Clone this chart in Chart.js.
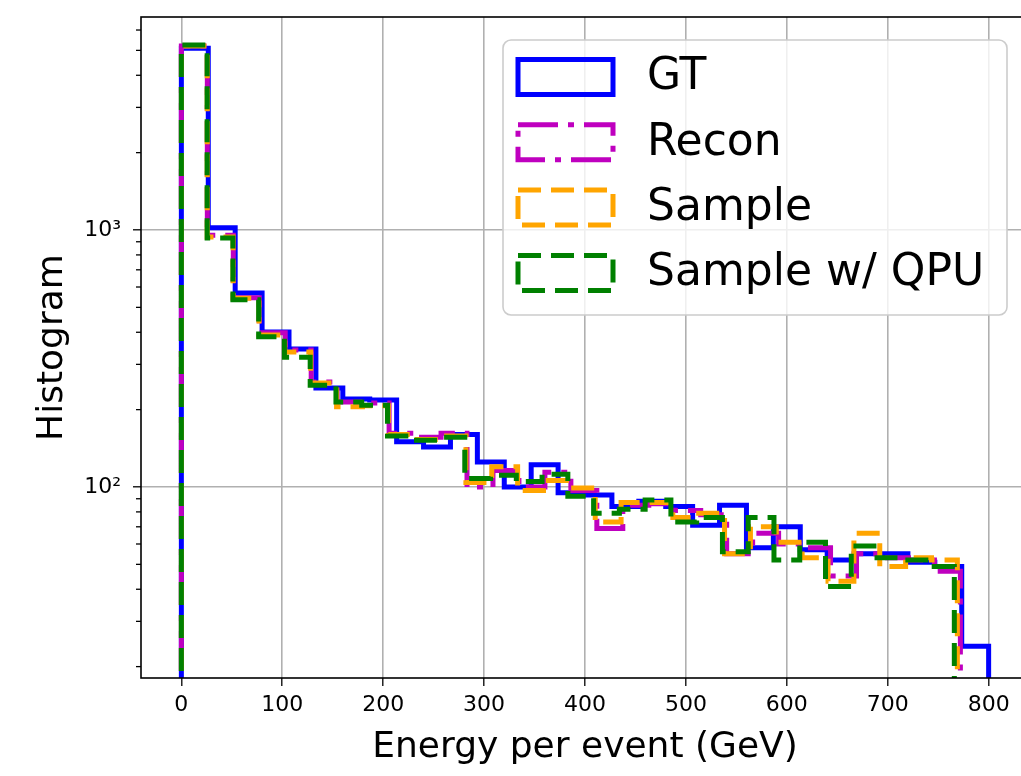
<!DOCTYPE html>
<html>
<head>
<meta charset="utf-8">
<script src="https://cdn.jsdelivr.net/npm/chart.js@4.4.1/dist/chart.umd.min.js"></script>
<style>
  html, body { margin: 0; padding: 0; background: #fff; overflow: hidden; }
  canvas { display: block; }
</style>
</head>
<body>
<canvas id="histChart" width="1045" height="776"></canvas>
<script>
// histogram counts per bin (30 bins each)
const gtCounts     = [5100, 1020, 569, 401, 344, 243, 220, 218, 150, 143, 160, 125, 100, 122, 95, 93, 84, 88, 84, 71, 85, 58, 70, 57, 52, 55, 55, 51, 49, 24];
const reconCounts  = [5200, 955, 545, 398, 341, 256, 214, 212, 162, 156, 162, 100, 116, 100, 114, 97, 69, 85, 86, 81, 78, 55, 66, 60, 58, 45, 55, 53, 52, 47];
const sampleCounts = [5200, 940, 543, 390, 335, 254, 205, 207, 160, 153, 158, 104, 120, 97, 106, 99, 73, 87, 87, 76, 79, 55, 70, 61, 53, 43, 66, 49, 53, 52];
const qpuCounts    = [5250, 930, 535, 384, 320, 249, 214, 208, 158, 152, 156, 108, 111, 105, 112, 92, 79, 82, 89, 73, 76, 56, 76, 52, 61, 41, 59, 53, 52, 49];

// bin ranges (GeV) of each histogram
const gtRange     = [0, 800];
const reconRange  = [0, 772];
const sampleRange = [0, 769];
const qpuRange    = [0, 766];

const xTickValues = [0, 100, 200, 300, 400, 500, 600, 700, 800];
const yTickValues = [20, 30, 40, 50, 60, 70, 80, 90, 100, 200, 300, 400, 500, 600, 700, 800, 900, 1000, 2000, 3000, 4000, 5000, 6000];
const yTickLabels = { 100: '10²', 1000: '10³' };

const FONT = 'DejaVu Sans';

// outline of a step histogram, dropping to below the axis at both ends
function stepPoints(counts, range) {
  const w = (range[1] - range[0]) / counts.length;
  const pts = [{ x: range[0], y: 1 }];
  counts.forEach((c, i) => pts.push({ x: range[0] + i * w, y: c }));
  pts.push({ x: range[1], y: counts[counts.length - 1] });
  pts.push({ x: range[1], y: 1 });
  return pts;
}

function stepSet(label, counts, range, color, dash, order) {
  return {
    label,
    data: stepPoints(counts, range),
    borderColor: color,
    borderWidth: 5,
    borderDash: dash,
    borderCapStyle: 'butt',
    borderJoinStyle: 'miter',
    stepped: 'before',
    pointRadius: 0,
    fill: false,
    clip: 0,
    order,
  };
}

const frameAndLegend = {
  id: 'frameAndLegend',
  afterDatasetsDraw(chart) {
    const { ctx, chartArea: a, scales } = chart;
    ctx.save();
    // minor ticks on the log axis
    ctx.strokeStyle = '#000';
    ctx.lineWidth = 1.3;
    yTickValues.filter(v => !yTickLabels[v]).forEach(v => {
      const py = scales.y.getPixelForValue(v);
      ctx.beginPath();
      ctx.moveTo(a.left - 5, py);
      ctx.lineTo(a.left, py);
      ctx.stroke();
    });
    // axes frame
    ctx.lineWidth = 1.6;
    ctx.strokeRect(a.left, a.top, a.right - a.left, a.bottom - a.top);

    // legend box
    const lw = 504, lh = 275;
    const lx = a.right - 22 - lw, ly = a.top + 23;
    ctx.beginPath();
    ctx.roundRect(lx, ly, lw, lh, 8);
    ctx.fillStyle = 'rgba(255,255,255,0.8)';
    ctx.fill();
    ctx.strokeStyle = '#cccccc';
    ctx.lineWidth = 1.6;
    ctx.stroke();

    chart.data.datasets.forEach((ds, i) => {
      const cy = ly + 37 + i * 65.3;
      ctx.setLineDash(ds.borderDash);
      ctx.strokeStyle = ds.borderColor;
      ctx.lineWidth = 5;
      ctx.lineJoin = 'miter';
      ctx.strokeRect(lx + 15, cy - 17.5, 95, 35);
      ctx.setLineDash([]);
      ctx.fillStyle = '#000';
      ctx.font = '44px "' + FONT + '"';
      ctx.textBaseline = 'middle';
      ctx.textAlign = 'left';
      ctx.fillText(ds.label, lx + 144, cy + 1);
    });
    ctx.restore();
  }
};

new Chart(document.getElementById('histChart'), {
  type: 'line',
  data: {
    datasets: [
      stepSet('GT', gtCounts, gtRange, '#0000ff', [], 4),
      stepSet('Recon', reconCounts, reconRange, '#bf00bf', [40, 10, 6, 10], 3),
      stepSet('Sample', sampleCounts, sampleRange, '#ffa500', [23, 10], 2),
      stepSet('Sample w/ QPU', qpuCounts, qpuRange, '#008000', [23, 10], 1),
    ],
  },
  options: {
    responsive: false,
    animation: false,
    devicePixelRatio: 1,
    layout: { padding: { top: 17, right: 16, left: 0, bottom: 0 } },
    plugins: { legend: { display: false }, tooltip: { enabled: false } },
    scales: {
      x: {
        type: 'linear',
        min: -40,
        max: 840,
        afterBuildTicks: s => { s.ticks = xTickValues.map(v => ({ value: v })); },
        afterFit: s => { s.height = 98; s.paddingLeft = 0; s.paddingRight = 0; },
        grid: { color: '#b0b0b0', lineWidth: 1.6, tickLength: 8, tickColor: '#000', tickWidth: 1.3 },
        border: { display: false },
        ticks: { font: { family: FONT, size: 22 }, color: '#000', padding: 6, maxRotation: 0, autoSkip: false },
        title: {
          display: true,
          text: 'Energy per event (GeV)',
          color: '#000',
          font: { family: FONT, size: 36, lineHeight: 1 },
          padding: { top: 0, bottom: 10 },
        },
      },
      y: {
        type: 'logarithmic',
        min: 18.06,
        max: 6743,
        afterBuildTicks: s => { s.ticks = yTickValues.map(v => ({ value: v })); },
        afterFit: s => { s.width = 141; s.paddingTop = 0; s.paddingBottom = 0; },
        grid: {
          color: c => (c.tick && yTickLabels[c.tick.value]) ? '#b0b0b0' : 'rgba(0,0,0,0)',
          tickColor: c => (c.tick && yTickLabels[c.tick.value]) ? '#000' : 'rgba(0,0,0,0)',
          lineWidth: 1.6,
          tickLength: 8,
          tickWidth: 1.3,
        },
        border: { display: false },
        ticks: {
          font: { family: FONT, size: 22 },
          color: '#000',
          padding: 12,
          autoSkip: false,
          callback: v => yTickLabels[v] || '',
        },
        title: {
          display: true,
          text: 'Histogram',
          color: '#000',
          font: { family: FONT, size: 36, lineHeight: 1 },
          padding: { top: 35, bottom: 0 },
        },
      },
    },
  },
  plugins: [frameAndLegend],
});
</script>
</body>
</html>
